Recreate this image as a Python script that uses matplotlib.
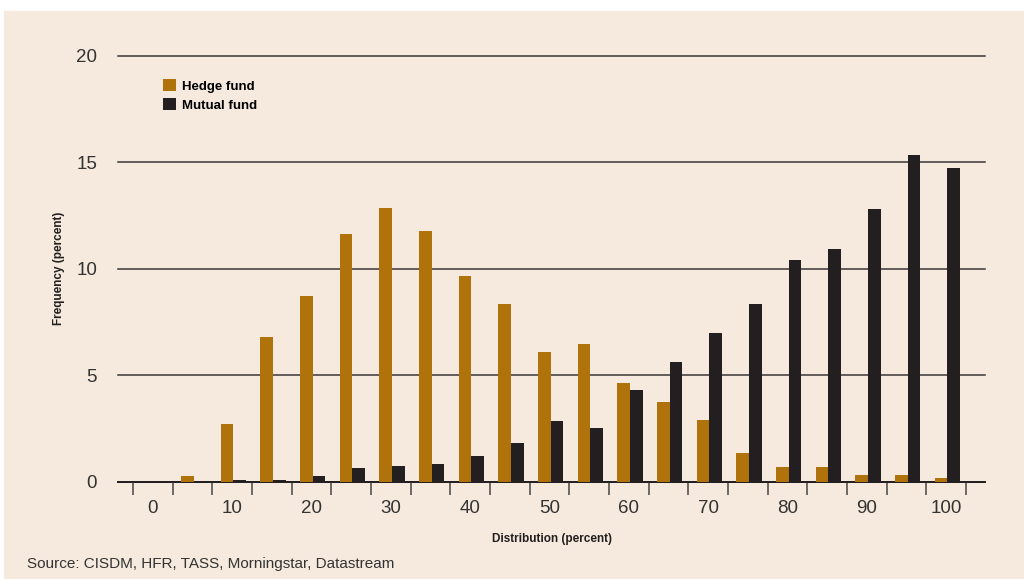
import matplotlib.pyplot as plt
import numpy as np

# distribution buckets, 0..100 in steps of 5
buckets = list(range(0, 101, 5))
hedge_fund = [0.0, 0.27, 2.7, 6.8, 8.7, 11.65, 12.85, 11.77, 9.65, 8.33,
              6.1, 6.45, 4.65, 3.75, 2.9, 1.35, 0.68, 0.68, 0.31, 0.31, 0.17]
mutual_fund = [0.0, 0.0, 0.05, 0.05, 0.26, 0.62, 0.73, 0.81, 1.19, 1.82,
               2.85, 2.5, 4.28, 5.6, 6.97, 8.36, 10.4, 10.92, 12.8, 15.34, 14.74]
y_ticks = [0, 5, 10, 15, 20]
x_labels = [str(b) for b in buckets[::2]]

BG = "#f5eadd"
GOLD = "#b0730c"
DARK = "#231f20"

fig = plt.figure(figsize=(10.24, 5.79), dpi=100)
fig.patch.set_facecolor("white")
# beige panel under the whole chart, white strip on top
fig.patches.append(plt.Rectangle((4 / 1024, 0), 1, 1 - 11 / 579,
                                 transform=fig.transFigure, color=BG, zorder=-5))

ax = fig.add_axes([118 / 1024, (579 - 481.5) / 579, 867 / 1024, 425.5 / 579])
ax.set_facecolor("none")
ax.set_zorder(2)

x = np.arange(len(buckets))
w = 0.32
ax.bar(x - w / 2 + 0.03, hedge_fund, width=w, color=GOLD, label="Hedge fund", zorder=3)
ax.bar(x + w / 2 + 0.03, mutual_fund, width=w, color=DARK, label="Mutual fund", zorder=3)

ax.set_xlim(-0.88, 20.98)
ax.set_ylim(0, 20)

for y in y_ticks:
    ax.axhline(y, color="#3a3636", lw=1.1, zorder=2, clip_on=False)

for s in ["top", "right", "left"]:
    ax.spines[s].set_visible(False)
ax.spines["bottom"].set_color(DARK)
ax.spines["bottom"].set_linewidth(1.4)

# boundary ticks between buckets, labels every 10 at bucket centres
ax.set_xticks(np.arange(len(buckets) + 1) - 0.5)
ax.set_xticklabels([])
ax.tick_params(axis="x", which="major", length=9.5, width=1.1, color="#4a4545",
               direction="out")
ax.set_xticks(x[::2], minor=True)
ax.set_xticklabels(x_labels, minor=True, fontsize=13.5, color="#333",
                   family="Liberation Sans")
ax.tick_params(axis="x", which="minor", length=0, pad=13)

ax.set_yticks(y_ticks)
ax.set_yticklabels([str(v) for v in y_ticks], fontsize=13.5, color="#333",
                   family="Liberation Sans")
ax.tick_params(axis="y", length=0, pad=15)

ax.set_ylabel("Frequency (percent)", fontsize=8.5, fontweight="bold",
              color=DARK, family="Liberation Sans", labelpad=8)
ax.set_xlabel("Distribution (percent)", fontsize=8.5, fontweight="bold",
              color=DARK, family="Liberation Sans", labelpad=12)

ax.legend(loc="upper left", bbox_to_anchor=(0.052, 0.945), frameon=False,
          prop={"family": "Liberation Sans", "weight": "bold", "size": 9.5},
          handlelength=1.0, handleheight=1.0, handletextpad=0.45,
          labelspacing=0.42, borderaxespad=0, borderpad=0)

fig.text(27 / 1024, 1 - 564 / 579, "Source: CISDM, HFR, TASS, Morningstar, Datastream",
         fontsize=11, color="#333", family="Liberation Sans", va="center")

fig.savefig("out.png", dpi=100, facecolor=fig.get_facecolor())
